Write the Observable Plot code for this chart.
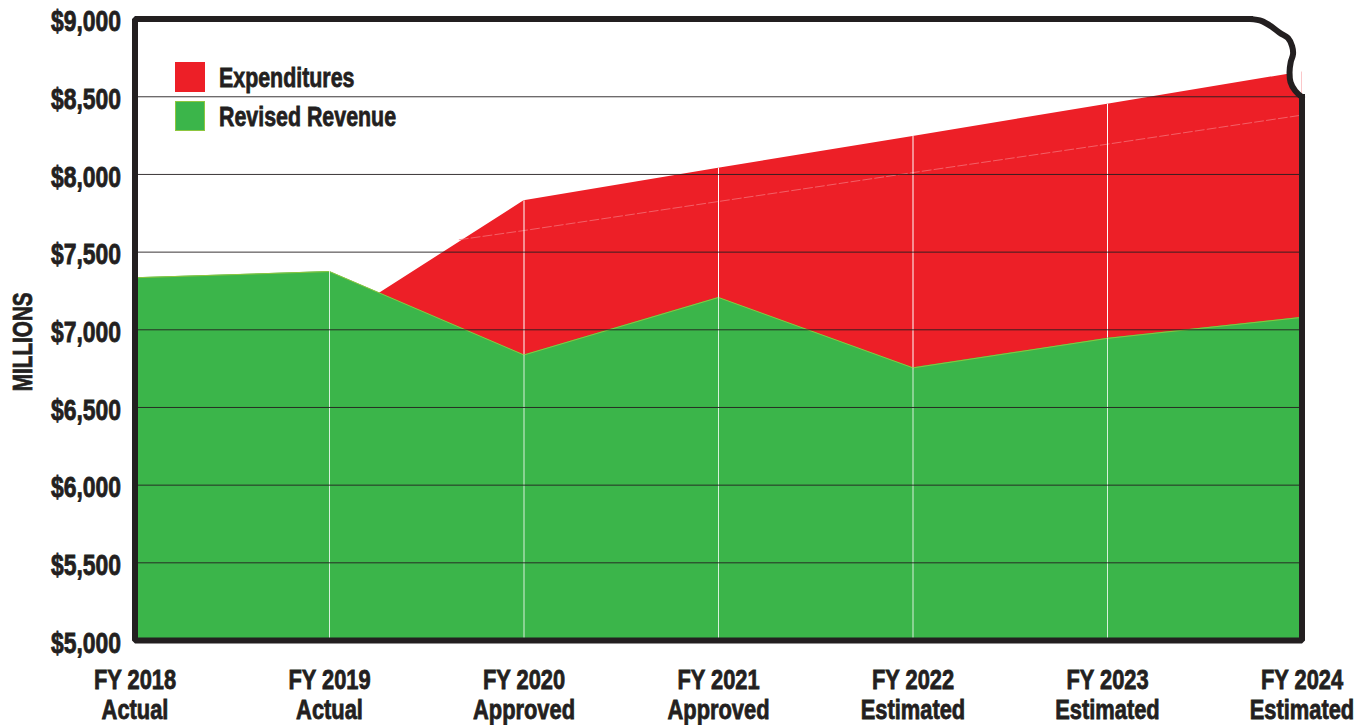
<!DOCTYPE html>
<html>
<head>
<meta charset="utf-8">
<script src="https://cdn.jsdelivr.net/npm/d3@7"></script>
<script src="https://cdn.jsdelivr.net/npm/@observablehq/plot@0.6"></script>
<style>
html,body{margin:0;padding:0;background:#fff}
#wrap{position:relative;width:1369px;height:725px;overflow:hidden}
svg text{stroke:#231f20;stroke-width:.8px}
.lg{position:absolute;left:175px;display:flex;align-items:center;font:bold 28.5px "Liberation Sans",sans-serif;color:#231f20;-webkit-text-stroke:.8px #231f20;height:30px;line-height:30px;white-space:nowrap}
.lg i{display:block;width:30px;height:30px;margin-right:14px;box-sizing:border-box;flex:none}
.lg span{display:block;transform:scaleX(.75);transform-origin:left center}
</style>
</head>
<body>
<div id="wrap"></div>
<script>
const years = ["FY 2018","FY 2019","FY 2020","FY 2021","FY 2022","FY 2023","FY 2024"];
const stages = ["Actual","Actual","Approved","Approved","Estimated","Estimated","Estimated"];
const expenditures = [7300,7030,7830,8040,8245,8452,8660];
const revenue = [7335,7375,6838,7208,6755,6945,7080];
const faintX = [1.667,2,3,4,5,6];
const faintV = [7580,7639,7826,8012,8195,8382];
const yTicks = [5000,5500,6000,6500,7000,7500,8000,8500,9000];
const legendNames = ["Expenditures","Revised Revenue"];
const frameX = [5.733,0,0,6,6];
const frameV = [9000,9000,5000,5000,8498];
const cornerX = [5.733,5.794,5.846,5.887,5.928,5.949,5.954,5.942,5.936,5.941,5.966,6];
const cornerV = [9000,8987,8949,8910,8878,8826,8775,8723,8659,8595,8537,8498];

const red="#ed1f27", green="#3bb54a", ink="#231f20";
const idx = years.map((_,i)=>i);
const font = '"Liberation Sans",sans-serif';
const corner = cornerX.map((x,i)=>({x,v:cornerV[i]}));

const chart = Plot.plot({
  width:1369, height:725,
  marginLeft:134.5, marginRight:67.5, marginTop:18.6, marginBottom:85,
  style:{fontFamily:font, fontWeight:"bold", fontSize:"27px", color:ink, background:"transparent", overflow:"visible"},
  x:{type:"linear", domain:[0,6]},
  y:{domain:[5000,9000]},
  marks:[
    Plot.areaY(idx,{x:i=>i,y1:5000,y2:i=>expenditures[i],fill:red}),
    Plot.line(faintX,{x:d=>d,y:(d,i)=>faintV[i],stroke:"#f4767c",strokeWidth:1,strokeOpacity:.75,strokeDasharray:"9 3"}),
    Plot.areaX(corner,{x1:"x",x2:()=>6,y:"v",fill:"white",curve:"catmull-rom"}),
    Plot.ruleX(idx.slice(1,6),{x:i=>i,y1:5000,y2:i=>Math.max(expenditures[i],revenue[i]),stroke:"#fff",strokeWidth:1}),
    Plot.areaY(idx,{x:i=>i,y1:5000,y2:i=>revenue[i],fill:green}),
    Plot.line(idx,{x:i=>i,y:i=>revenue[i],stroke:"#8dc63f",strokeWidth:1}),
    Plot.ruleX(idx.slice(1,6),{x:i=>i,y1:5000,y2:i=>revenue[i],stroke:"#fff",strokeWidth:1,strokeOpacity:.8}),
    Plot.ruleY(yTicks.slice(1,8),{y:d=>d,stroke:ink,strokeWidth:1,strokeOpacity:.9}),
    Plot.line(corner,{x:"x",y:"v",stroke:ink,strokeWidth:6,curve:"catmull-rom"}),
    Plot.line(frameX,{x:d=>d,y:(d,i)=>frameV[i],stroke:ink,strokeWidth:6,strokeLinejoin:"miter",strokeLinecap:"square"}),
    Plot.axisY({ticks:yTicks,tickSize:0,tickPadding:14,label:null,dy:3,tickFormat:d=>"$"+d3.format(",")(d),fontSize:29,className:"ya"}),
    Plot.axisX({ticks:idx,tickSize:0,tickPadding:27,label:null,lineHeight:1.11,tickFormat:i=>years[i]+"\n"+stages[i],fontSize:27,className:"xa"}),
    Plot.text(["MILLIONS"],{frameAnchor:"left",textAnchor:"middle",dx:-112,dy:12,rotate:-90,fontSize:28,fontWeight:"bold",text:d=>d,fill:ink,className:"ma"})
  ]
});
const squeeze=(cls,s)=>chart.querySelectorAll("."+cls+" text").forEach(t=>{
  t.setAttribute("transform",(t.getAttribute("transform")||"")+" scale("+s+",1)");
});
squeeze("ya",.79); squeeze("xa",.81); squeeze("ma",.74);
const wrap=document.getElementById("wrap");
wrap.appendChild(chart);
legendNames.forEach((n,i)=>{
  const d=document.createElement("div");
  d.className="lg";
  d.style.top=(i?101:62)+"px";
  d.innerHTML='<i style="background:'+(i?green:red)+(i?';border:1px solid #8dc63f':'')+'"></i><span>'+n+'</span>';
  wrap.appendChild(d);
});
</script>
</body>
</html>
